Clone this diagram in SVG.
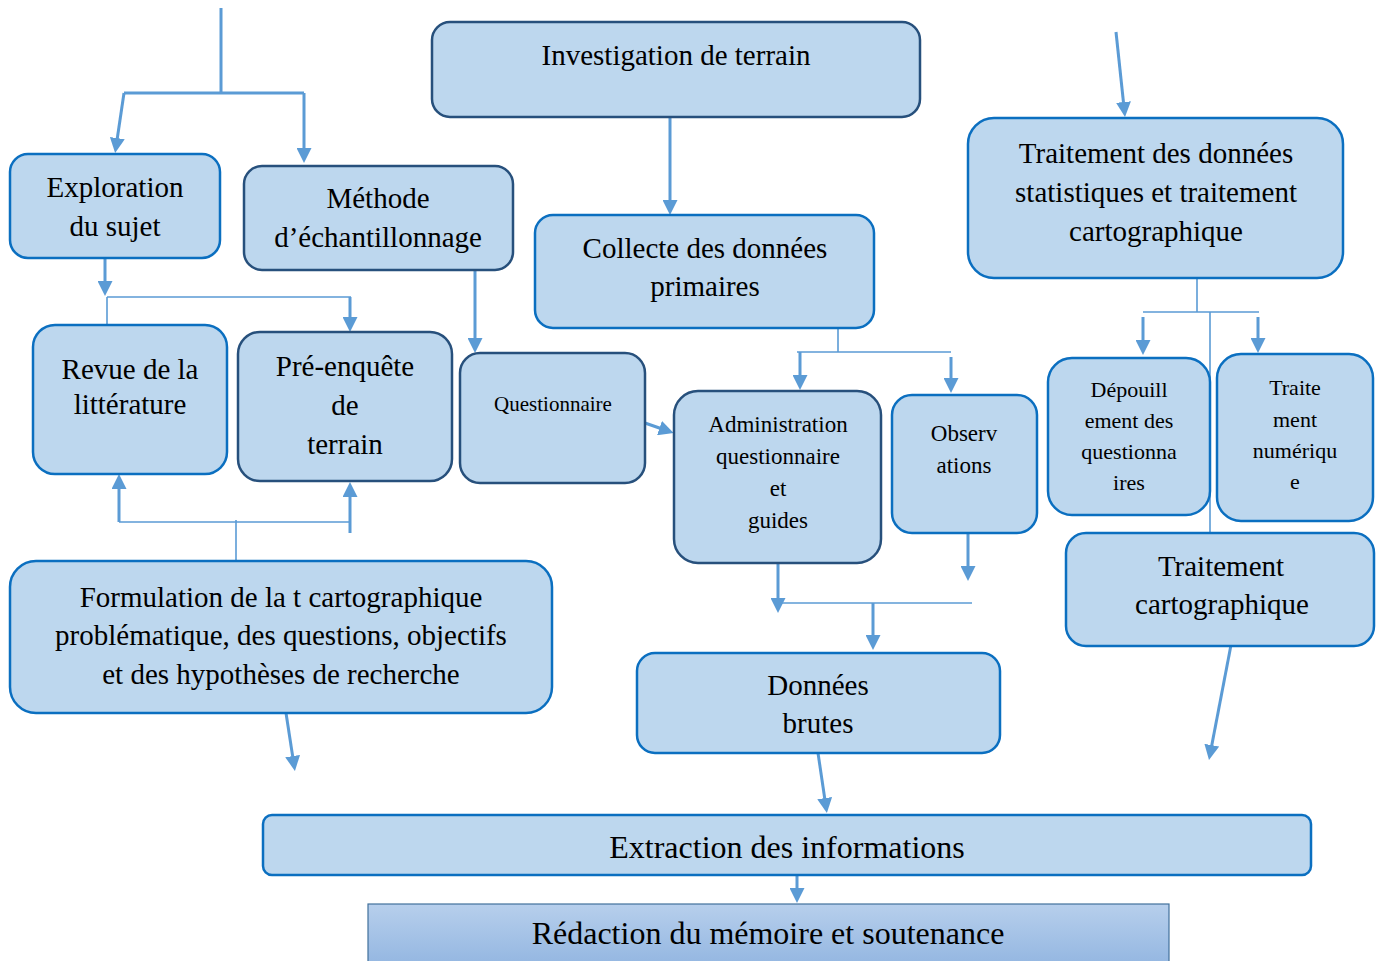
<svg xmlns="http://www.w3.org/2000/svg" width="1386" height="961" viewBox="0 0 1386 961">
<defs>
<marker id="ah" markerUnits="userSpaceOnUse" viewBox="0 0 15 15" markerWidth="15" markerHeight="15" refX="9" refY="7.5" orient="auto">
<path d="M0,0 L15,7.5 L0,15 z" fill="#5b9bd5"/>
</marker>
<linearGradient id="rg" x1="0" y1="0" x2="0" y2="1">
<stop offset="0" stop-color="#b7cfec"/>
<stop offset="1" stop-color="#93b6e1"/>
</linearGradient>
<style>
.b{fill:#bdd7ee;stroke-width:2.5}
.d{stroke:#27507c}
.m{stroke:#0b6fc0}
text{font-family:"Liberation Serif","Times New Roman",serif;fill:#000;text-anchor:middle}
.t29{font-size:29px}
.t31{font-size:32px}
.t23{font-size:23px}
.t22{font-size:22px}
.t21{font-size:21px}
.c{fill:none;stroke:#5b9bd5;stroke-width:3}
.a{fill:none;stroke:#5b9bd5;stroke-width:3;marker-end:url(#ah)}
.thin{fill:none;stroke:#5b9bd5;stroke-width:1.6}
</style>
</defs>
<rect width="1386" height="961" fill="#fff"/>

<g id="connectors">
<path class="c" d="M221,8 V93 M124,93 H304"/>
<path class="a" d="M124,93 L116,147"/>
<path class="a" d="M304,93 V157"/>
<path class="a" d="M105,258 V290"/>
<path class="thin" d="M107,297 H351 M107,297 V326"/>
<path class="a" d="M350,297 V326"/>
<path class="a" d="M475,270 V347"/>
<path class="a" d="M670,117 V209"/>
<path class="thin" d="M838,328 V352 M797,352 H951"/>
<path class="a" d="M800,352 V384"/>
<path class="a" d="M951,357 V387"/>
<path class="a" d="M645,423 L668,431"/>
<path class="a" d="M968,533 V575"/>
<path class="a" d="M778,563 V607"/>
<path class="thin" d="M778,603 H972"/>
<path class="a" d="M873,603 V644"/>
<path class="thin" d="M236,520 V561 M119,522 H350"/>
<path class="a" d="M119,522 V480"/>
<path class="a" d="M350,533 V488"/>
<path class="a" d="M286,713 L294,765"/>
<path class="a" d="M818,753 L826,807"/>
<path class="a" d="M797,875 V897"/>
<path class="a" d="M1116,32 L1124.4,111"/>
<path class="thin" d="M1197,270 V312 M1143,312 H1259 M1210,312 V533"/>
<path class="a" d="M1143,317 V349"/>
<path class="a" d="M1258,317 V347"/>
<path class="a" d="M1231,645 L1210.1,754"/>
</g>

<g id="investigation">
<rect class="b d" x="432" y="22" width="488" height="95" rx="18"/>
<text class="t29" x="676" y="65">Investigation de terrain</text>
</g>

<g id="exploration">
<rect class="b m" x="10" y="154" width="210" height="104" rx="18"/>
<text class="t29" x="115" y="197">Exploration</text>
<text class="t29" x="115" y="236">du sujet</text>
</g>

<g id="methode">
<rect class="b d" x="244" y="166" width="269" height="104" rx="18"/>
<text class="t29" x="378" y="208">Méthode</text>
<text class="t29" x="378" y="247">d’échantillonnage</text>
</g>

<g id="collecte">
<rect class="b m" x="535" y="215" width="339" height="113" rx="18"/>
<text class="t29" x="705" y="258">Collecte des données</text>
<text class="t29" x="705" y="296">primaires</text>
</g>

<g id="revue">
<rect class="b m" x="33" y="325" width="194" height="149" rx="22"/>
<text class="t29" x="130" y="379">Revue de la</text>
<text class="t29" x="130" y="414">littérature</text>
</g>

<g id="preenquete">
<rect class="b d" x="238" y="332" width="214" height="149" rx="22"/>
<text class="t29" x="345" y="376">Pré-enquête</text>
<text class="t29" x="345" y="415">de</text>
<text class="t29" x="345" y="454">terrain</text>
</g>

<g id="questionnaire">
<rect class="b d" x="460" y="353" width="185" height="130" rx="20"/>
<text class="t21" x="553" y="411">Questionnaire</text>
</g>

<g id="administration">
<rect class="b d" x="674" y="391" width="207" height="172" rx="24"/>
<text class="t23" x="778" y="432">Administration</text>
<text class="t23" x="778" y="464">questionnaire</text>
<text class="t23" x="778" y="496">et</text>
<text class="t23" x="778" y="528">guides</text>
</g>

<g id="observations">
<rect class="b m" x="892" y="395" width="145" height="138" rx="20"/>
<text class="t23" x="964" y="441">Observ</text>
<text class="t23" x="964" y="473">ations</text>
</g>

<g id="traitement-donnees">
<rect class="b m" x="968" y="118" width="375" height="160" rx="26"/>
<text class="t29" x="1156" y="163">Traitement des données</text>
<text class="t29" x="1156" y="202">statistiques et traitement</text>
<text class="t29" x="1156" y="241">cartographique</text>
</g>

<g id="depouillement">
<rect class="b m" x="1048" y="358" width="162" height="157" rx="24"/>
<text class="t22" x="1129" y="397">Dépouill</text>
<text class="t22" x="1129" y="428">ement des</text>
<text class="t22" x="1129" y="459">questionna</text>
<text class="t22" x="1129" y="490">ires</text>
</g>

<g id="traitement-numerique">
<rect class="b m" x="1217" y="354" width="156" height="167" rx="24"/>
<text class="t22" x="1295" y="395">Traite</text>
<text class="t22" x="1295" y="427">ment</text>
<text class="t22" x="1295" y="458">numériqu</text>
<text class="t22" x="1295" y="489">e</text>
</g>

<g id="traitement-carto">
<rect class="b m" x="1066" y="533" width="308" height="113" rx="20"/>
<text class="t29" x="1221" y="576">Traitement</text>
<text class="t29" x="1222" y="614">cartographique</text>
</g>

<g id="formulation">
<rect class="b m" x="10" y="561" width="542" height="152" rx="26"/>
<text class="t29" x="281" y="607">Formulation de la t cartographique</text>
<text class="t29" x="281" y="645">problématique, des questions, objectifs</text>
<text class="t29" x="281" y="684">et des hypothèses de recherche</text>
</g>

<g id="donnees-brutes">
<rect class="b m" x="637" y="653" width="363" height="100" rx="18"/>
<text class="t29" x="818" y="695">Données</text>
<text class="t29" x="818" y="733">brutes</text>
</g>

<g id="extraction">
<rect class="b m" x="263" y="815" width="1048" height="60" rx="9"/>
<text class="t31" x="787" y="858">Extraction des informations</text>
</g>

<g id="redaction">
<rect x="368" y="904" width="801" height="62" fill="url(#rg)" stroke="#41719c" stroke-width="1.2"/>
<text class="t31" x="768" y="944">Rédaction du mémoire et soutenance</text>
</g>
</svg>
